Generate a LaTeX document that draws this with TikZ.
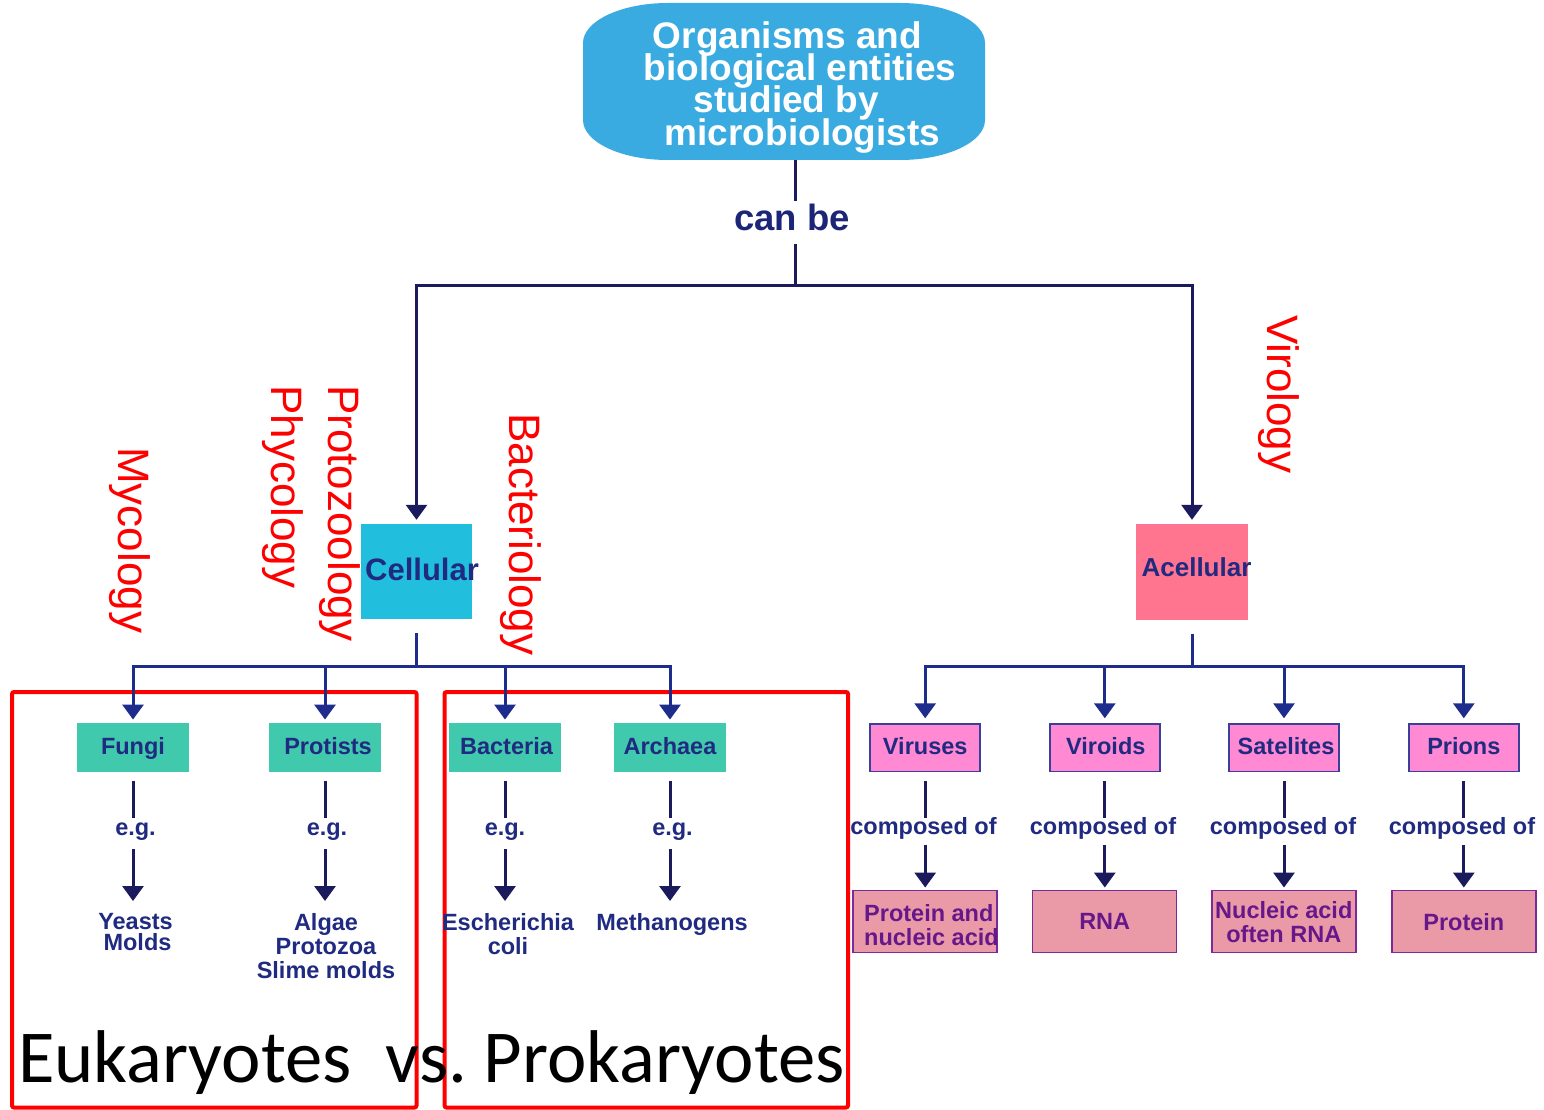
\documentclass[tikz,border=0pt]{standalone}
\usepackage{fontspec}
\setmainfont{Liberation Sans}
\newfontfamily\carlito{Carlito}
\usetikzlibrary{arrows.meta}
\definecolor{topblue}{HTML}{3AABE0}
\definecolor{darkline}{HTML}{1A1A5C}
\definecolor{branchblue}{HTML}{1E2D8C}
\definecolor{navytext}{HTML}{1F2A80}
\definecolor{titlenavy}{HTML}{1C2676}
\definecolor{cellfill}{HTML}{22BEDD}
\definecolor{acellfill}{HTML}{FF7590}
\definecolor{boxgreen}{HTML}{41C9AD}
\definecolor{boxpink}{HTML}{FF89D3}
\definecolor{pinkborder}{HTML}{3B3F9A}
\definecolor{boxrose}{HTML}{EA9AA7}
\definecolor{roseborder}{HTML}{7B2A9A}
\definecolor{purpletext}{HTML}{66188A}
\newcommand{\txtfont}{\fontsize{23.5}{24}\selectfont\bfseries}
\begin{document}
\setlength{\lineskiplimit}{-100pt}
\begin{tikzpicture}[x=1pt,y=-1pt,
  conn/.style={draw=darkline, line width=3pt},
  branch/.style={draw=branchblue, line width=3pt},
  tip/.style={-{Triangle[width=21pt,length=15pt]}},
  greenbox/.style={fill=boxgreen, minimum width=112pt, minimum height=49.5pt, inner sep=0pt, text height=17pt, text depth=4pt, font=\txtfont, text=navytext},
  pinkbox/.style={fill=boxpink, draw=pinkborder, line width=1.5pt, minimum width=110pt, minimum height=47.5pt, inner sep=0pt, text height=17pt, text depth=4pt, font=\txtfont, text=navytext},
  rosebox/.style={fill=boxrose, draw=roseborder, line width=1.5pt, minimum width=144pt, minimum height=62pt, inner sep=0pt, font=\txtfont, text=purpletext, align=center},
  rosetext/.style={inner sep=0pt, font=\txtfont, text=purpletext, align=left},
  egnode/.style={inner sep=0pt, anchor=base, text height=17pt, text depth=14pt, font=\txtfont, text=navytext},
  compnode/.style={inner sep=0pt, anchor=base, text height=15.7pt, text depth=10.3pt, font=\txtfont, text=navytext},
  itemnode/.style={inner sep=0pt, anchor=north, align=center, font=\txtfont, text=navytext},
  field/.style={rotate=-90, anchor=base west, inner sep=0pt, text=red, font=\fontsize{44}{44}\selectfont},
  redbox/.style={draw=red, line width=4pt, rounded corners=2pt}
]
\useasboundingbox (0,0) rectangle (1544,1110);

% title
\node[inner sep=0pt, minimum width=402pt, minimum height=157pt] (top) at (784,81.5) {};
\fill[topblue] (668,3) -- (900,3) .. controls (947,3) and (985,21) .. (985,43) -- (985,120)
  .. controls (985,142) and (947,160) .. (900,160) -- (668,160)
  .. controls (621,160) and (583,142) .. (583,120) -- (583,43)
  .. controls (583,21) and (621,3) .. (668,3) -- cycle;
\node[inner sep=0pt, anchor=north, align=center, text=white, font=\fontsize{37}{32.2}\selectfont\bfseries] (toptext) at (795,21.5)
  {Organisms and\hbox to 15pt{}\\\hbox to 10pt{}biological entities\\studied by\hbox to 17pt{}\\\hbox to 15pt{}microbiologists};

\node[anchor=base, inner sep=0pt, text height=28.3pt, text depth=14pt, font=\fontsize{36.5}{40}\selectfont\bfseries, text=titlenavy] (canbe) at (792,230) {can be};
\coordinate (j0) at (795.5,285);

% level 1
\node[fill=cellfill, minimum width=111.5pt, minimum height=95pt, inner sep=0pt, text height=22pt, text depth=3.6pt, font=\fontsize{31}{31}\selectfont\bfseries, text=navytext] (cellular) at (416.5,571.5) {\makebox[0pt]{\hspace*{11pt}Cellular}};
\node[fill=acellfill, minimum width=112pt, minimum height=96pt, inner sep=0pt, text height=20pt, text depth=12pt, font=\fontsize{26}{26}\selectfont\bfseries, text=navytext] (acellular) at (1192,572) {\makebox[0pt]{\hspace*{9pt}Acellular}};

\draw[conn] (top.south -| j0) -- (canbe.north -| j0);
\draw[conn] (canbe.south -| j0) -- (j0);
\draw[conn,tip,shorten >=4pt] (j0) -| (cellular.north);
\draw[conn,tip,shorten >=4pt] (j0) -| (acellular.north);

% field labels
\node[field] (myc) at (118.2,447) {Mycology};
\node[field] (phy) at (271.7,385) {Phycology};
\node[field] (pro) at (328.8,385) {Protozoology};
\node[field] (bac) at (509.2,413) {Bacteriology};
\node[field] (vir) at (1267,315) {Virology};

% red frames
\draw[redbox] (12,692) rectangle (416.5,1107.5);
\draw[redbox] (444.5,692) rectangle (848,1107.5);

% cellular branch
\coordinate (jl) at (416.5,666);
\node[greenbox] (fungi) at (133,747.5) {Fungi};
\node[greenbox] (protists) at (325,747.5) {\hspace*{6pt}Protists};
\node[greenbox] (bacteria) at (505,747.5) {\hspace*{3pt}Bacteria};
\node[greenbox] (archaea) at (670,747.5) {Archaea};
\draw[branch, shorten <=14pt] (cellular.south) -- (jl);
\foreach \n in {fungi,protists,bacteria,archaea}
  \draw[branch,tip,shorten >=3pt] (jl) -| (\n.north);

\node[egnode] (eg1) at (135.5,835) {e.g.};
\node[egnode] (eg2) at (327,835) {e.g.};
\node[egnode] (eg3) at (505,835) {e.g.};
\node[egnode] (eg4) at (672.5,835) {e.g.};

\node[itemnode] (yeasts) at (135.5,913) {Yeasts\\[-3.3pt]\hspace*{4pt}Molds};
\node[itemnode] (algae) at (326,913) {Algae\\Protozoa\\Slime molds};
\node[itemnode] (ecoli) at (508,913) {Escherichia\\coli};
\node[itemnode] (meth) at (672,913) {Methanogens};

\foreach \b/\e/\i in {fungi/eg1/yeasts, protists/eg2/algae, bacteria/eg3/ecoli, archaea/eg4/meth}{
  \draw[conn, shorten <=8.5pt] (\b.south) -- (\b.south |- \e.north);
  \draw[conn, tip, shorten >=12pt] (\b.south |- \e.south) -- (\b.south |- \i.north);
}

\node[anchor=base west, inner sep=0pt, font=\carlito\fontsize{74.7}{75}\selectfont] (euk) at (18,1082) {Eukaryotes\ \ vs.\ Prokaryotes};

% acellular branch
\coordinate (jr) at (1192,666);
\node[pinkbox] (viruses) at (925.2,747.8) {Viruses};
\node[pinkbox] (viroids) at (1104.8,747.8) {\hspace*{2pt}Viroids};
\node[pinkbox] (satelites) at (1284,747.8) {\hspace*{4pt}Satelites};
\node[pinkbox] (prions) at (1463.8,747.8) {Prions};
\draw[branch, shorten <=14pt] (acellular.south) -- (jr);
\foreach \n in {viruses,viroids,satelites,prions}
  \draw[branch,tip,shorten >=5pt] (jr) -| (\n.north);

\node[compnode] (c1) at (923.5,834) {composed of};
\node[compnode] (c2) at (1103,834) {composed of};
\node[compnode] (c3) at (1283,834) {composed of};
\node[compnode] (c4) at (1462,834) {composed of};

\node[rosebox] (r1) at (925,921.7) {};
\node[rosetext, anchor=north west] (r1t) at (864,903.9) {Protein and\\nucleic acid};
\node[rosebox] (r2) at (1104.7,921.7) {RNA};
\node[rosebox] (r3) at (1283.8,921.7) {Nucleic acid\\often RNA};
\node[rosebox] (r4) at (1463.8,921.7) {Protein};

\foreach \b/\c/\r in {viruses/c1/r1, viroids/c2/r2, satelites/c3/r3, prions/c4/r4}{
  \draw[conn, shorten <=9pt] (\b.south) -- (\b.south |- \c.north);
  \draw[conn, tip, shorten >=2.4pt] (\b.south |- \c.south) -- (\b.south |- \r.north);
}
\end{tikzpicture}
\end{document}
